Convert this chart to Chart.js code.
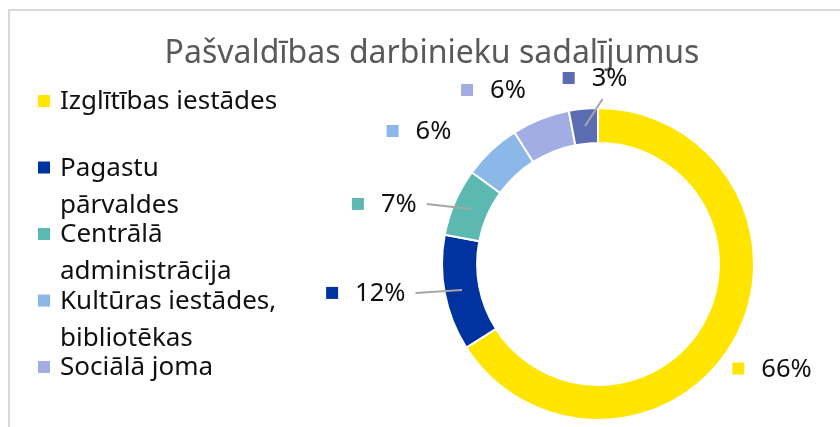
<!DOCTYPE html>
<html>
<head>
<meta charset="utf-8">
<script src="https://cdn.jsdelivr.net/npm/chart.js@4.4.0/dist/chart.umd.min.js"></script>
<style>
  body { margin: 0; background: #fff; }
  canvas { display: block; }
</style>
</head>
<body>
<canvas id="chart" width="840" height="427"></canvas>
<script>
var chartTitle = 'Pašvaldības darbinieku sadalījumus';
var categories = [
    ['Izglītības iestādes'],
    ['Pagastu', 'pārvaldes'],
    ['Centrālā', 'administrācija'],
    ['Kultūras iestādes,', 'bibliotēkas'],
    ['Sociālā joma'],
    ['Citi']
];
var shares = [66, 12, 7, 6, 6, 3];
var colors = ['#FFE500', '#0033A0', '#5BB9B2', '#8BB8E8', '#A2AEE3', '#5B6CB2'];

var FONT = '"Noto Sans", "Open Sans", sans-serif';

// frame + title + legend + data labels drawn by hand
var decor = {
    id: 'decor',
    afterDraw: function (chart) {
        var c = chart.ctx;
        c.save();
        // frame
        c.fillStyle = '#d9d9d9';
        c.fillRect(8, 9, chart.width - 8, 2);
        c.fillRect(8, 9, 2, chart.height - 9);

        // title
        c.fillStyle = '#595959';
        c.font = '32px ' + FONT;
        c.textAlign = 'center';
        c.textBaseline = 'alphabetic';
        c.fillText(chartTitle, 432, 63);

        // legend
        c.font = '26px ' + FONT;
        c.textAlign = 'left';
        categories.forEach(function (lines, i) {
            var base = 109 + 66.5 * i;
            if (base > chart.height) return;
            c.fillStyle = colors[i];
            c.fillRect(38, base - 14, 12, 12);
            c.fillStyle = '#111';
            lines.forEach(function (t, j) {
                c.fillText(t, 60, base + 37 * j);
            });
        });

        // data labels
        var meta = chart.getDatasetMeta(0);
        var place = [
            { ang: 121, dist: 203 },
            { ang: 262.9, dist: 234, line: 'side' },
            { ang: 285.7, dist: 222, line: 'side' },
            { ang: 306.6, dist: 223 },
            { ang: 329, dist: 203 },
            { ang: 359.1, dist: 186, line: 'below' }
        ];
        meta.data.forEach(function (arc, i) {
            var p = arc.getProps(['x', 'y', 'startAngle', 'endAngle', 'innerRadius', 'outerRadius'], true);
            var k = p.outerRadius / 156;
            var a = place[i].ang * Math.PI / 180;
            var gx = p.x + Math.sin(a) * place[i].dist * k;
            var gy = p.y - Math.cos(a) * place[i].dist * k;
            var txt = shares[i] + '%';
            c.font = '25.5px ' + FONT;
            var tw = c.measureText(txt).width;
            var w = 12 + 17 + tw;
            var x0 = gx - w / 2;
            c.fillStyle = colors[i];
            c.fillRect(x0, gy - 6, 12, 12);
            c.fillStyle = '#111';
            c.textBaseline = 'middle';
            c.fillText(txt, x0 + 29, gy + 1);

            var mid = (p.startAngle + p.endAngle) / 2;
            var rr = (p.innerRadius + p.outerRadius) / 2;
            var tx = p.x + Math.cos(mid) * rr;
            var ty = p.y + Math.sin(mid) * rr;
            if (place[i].line) {
                c.strokeStyle = '#a6a6a6';
                c.lineWidth = 2;
                c.beginPath();
                if (place[i].line === 'side') {
                    c.moveTo(x0 + w + 10, gy);
                } else {
                    c.moveTo(x0 + 29 + tw / 2 - 7, gy + 21);
                }
                c.lineTo(tx, ty);
                c.stroke();
            }
        });
        c.restore();
    }
};

var ctx = document.getElementById('chart').getContext('2d');
var chart = new Chart(ctx, {
    type: 'doughnut',
    data: {
        labels: categories,
        datasets: [{
            data: shares,
            backgroundColor: colors,
            borderColor: '#ffffff',
            borderWidth: 2
        }]
    },
    options: {
        responsive: false,
        animation: false,
        cutout: '77.5%',
        layout: { padding: { left: 441, right: 85, top: 107, bottom: 6 } },
        plugins: {
            legend: { display: false },
            title: { display: false },
            tooltip: { enabled: false }
        }
    },
    plugins: [decor]
});
</script>
</body>
</html>
